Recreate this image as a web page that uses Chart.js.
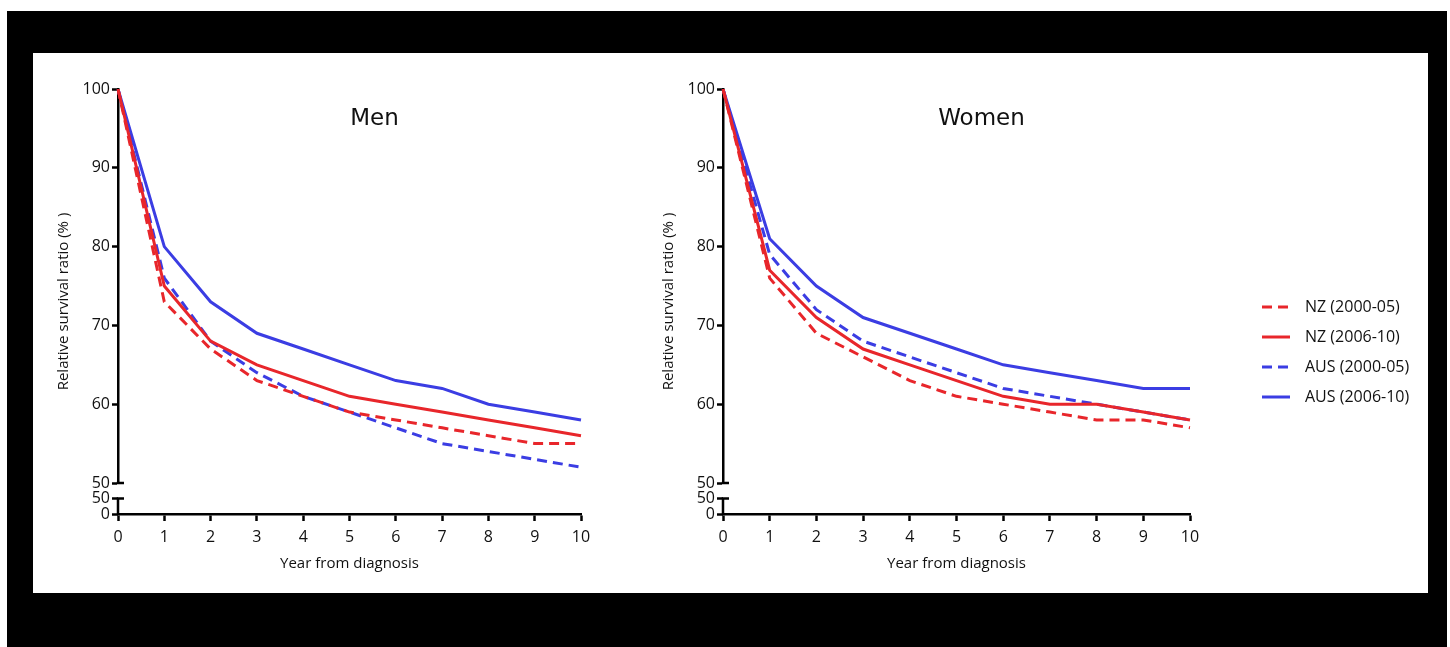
<!DOCTYPE html>
<html>
<head>
<meta charset="utf-8">
<script src="https://cdn.jsdelivr.net/npm/chart.js@4/dist/chart.umd.min.js"></script>
<style>
  html, body { margin: 0; padding: 0; background: #fff; }
  body { width: 1450px; height: 647px; position: relative; overflow: hidden; }
  #frame { position: absolute; left: 7px; top: 11px; width: 1440px; height: 636px; background: #000; }
  #panel { position: absolute; left: 33px; top: 53px; width: 1395px; height: 540px; background: #fff; }
  #men { position: absolute; left: 33px; top: 53px; }
  #women { position: absolute; left: 638px; top: 53px; }
</style>
</head>
<body>
<div id="frame"></div>
<div id="panel"></div>
<canvas id="men" width="605" height="540"></canvas>
<canvas id="women" width="790" height="540"></canvas>
<script>
// years since diagnosis
const years = [0, 1, 2, 3, 4, 5, 6, 7, 8, 9, 10];

const seriesLabels = ['NZ (2000-05)', 'NZ (2006-10)', 'AUS (2000-05)', 'AUS (2006-10)'];

// relative survival ratio (%), men
const menNZ0005  = [100, 73, 67, 63, 61, 59, 58, 57, 56, 55, 55];
const menNZ0610  = [100, 75, 68, 65, 63, 61, 60, 59, 58, 57, 56];
const menAUS0005 = [100, 76, 68, 64, 61, 59, 57, 55, 54, 53, 52];
const menAUS0610 = [100, 80, 73, 69, 67, 65, 63, 62, 60, 59, 58];

// relative survival ratio (%), women
const womenNZ0005  = [100, 76, 69, 66, 63, 61, 60, 59, 58, 58, 57];
const womenNZ0610  = [100, 77, 71, 67, 65, 63, 61, 60, 60, 59, 58];
const womenAUS0005 = [100, 79, 72, 68, 66, 64, 62, 61, 60, 59, 58];
const womenAUS0610 = [100, 81, 75, 71, 69, 67, 65, 64, 63, 62, 62];

const RED = '#e8262b';
const BLUE = '#3b3de3';
const seriesColors = [RED, RED, BLUE, BLUE];
const seriesDash = [[10, 6], [], [10, 6], []];

Chart.defaults.font.family = "'Open Sans', sans-serif";
Chart.defaults.color = '#111';

// draws the lower piece of the broken y axis, the y title, the panel title and the legend
const brokenAxis = {
  id: 'brokenAxis',
  afterDraw(chart, args, opts) {
    const { ctx, chartArea, scales: { y, yLow } } = chart;
    const ax = y.right;
    ctx.save();
    ctx.strokeStyle = '#000';
    ctx.lineWidth = 2.5;
    ctx.beginPath();
    ctx.moveTo(ax, yLow.getPixelForValue(50));
    ctx.lineTo(ax, yLow.getPixelForValue(0));
    [y.getPixelForValue(50), yLow.getPixelForValue(50)].forEach(py => {
      ctx.moveTo(ax - 1.25, py);
      ctx.lineTo(ax + 6, py);
    });
    ctx.stroke();

    ctx.fillStyle = '#111';
    ctx.textAlign = 'center';
    ctx.textBaseline = 'middle';

    // y title centred over both pieces of the axis
    ctx.save();
    ctx.font = "15px 'Open Sans', sans-serif";
    ctx.translate(y.left + 31, (y.top + yLow.bottom) / 2);
    ctx.rotate(-Math.PI / 2);
    ctx.fillText(opts.yTitle, 0, 0);
    ctx.restore();

    ctx.font = "23px 'DejaVu Sans', sans-serif";
    ctx.fillText(opts.title, (chartArea.left + chartArea.right) / 2 + 25, chartArea.top + 30);

    if (opts.legend) {
      const lx = chartArea.right + 72;
      const ly = chartArea.top + 218;
      ctx.font = "16px 'Open Sans', sans-serif";
      ctx.textAlign = 'left';
      chart.data.datasets.forEach((ds, i) => {
        const py = ly + i * 30;
        ctx.setLineDash(ds.borderDash || []);
        ctx.strokeStyle = ds.borderColor;
        ctx.lineWidth = ds.borderWidth;
        ctx.beginPath();
        ctx.moveTo(lx, py);
        ctx.lineTo(lx + 28, py);
        ctx.stroke();
        ctx.setLineDash([]);
        ctx.fillText(ds.label, lx + 43, py);
      });
    }
    ctx.restore();
  }
};

const tickGrid = { drawOnChartArea: false, tickLength: 6, tickWidth: 2.5, tickColor: '#000' };

function makeChart(id, title, series, withLegend, padRight) {
  return new Chart(document.getElementById(id), {
    type: 'line',
    data: {
      labels: years,
      datasets: series.map((d, i) => ({
        label: seriesLabels[i],
        data: d,
        borderColor: seriesColors[i],
        borderDash: seriesDash[i],
        borderWidth: 3,
        pointRadius: 0,
        tension: 0,
        fill: false,
        yAxisID: 'y'
      }))
    },
    options: {
      responsive: false,
      animation: false,
      layout: { padding: { left: 0, top: 36, right: padRight, bottom: 0 } },
      plugins: {
        legend: { display: false },
        tooltip: { enabled: false },
        brokenAxis: { title: title, yTitle: 'Relative survival ratio (% )', legend: withLegend }
      },
      scales: {
        // lower stub of the broken axis (defined first so it sits below)
        yLow: {
          type: 'linear',
          position: 'left',
          stack: 'v',
          stackWeight: 31,
          weight: 0,
          min: 0,
          max: 100,
          ticks: { stepSize: 50, padding: 2, font: { size: 16 }, autoSkip: false },
          afterBuildTicks: s => { s.ticks = s.ticks.filter(t => t.value <= 50); },
          grid: tickGrid,
          border: { display: false },
          afterFit: s => { s.width = 85; }
        },
        y: {
          type: 'linear',
          position: 'left',
          stack: 'v',
          stackWeight: 394,
          weight: 1,
          min: 50,
          max: 100,
          ticks: { stepSize: 10, padding: 2, font: { size: 16 } },
          grid: tickGrid,
          border: { display: true, width: 2.5, color: '#000' },
          afterFit: s => { s.width = 85; }
        },
        x: {
          type: 'category',
          offset: false,
          grid: { drawOnChartArea: false, tickLength: 7, tickWidth: 2.5, tickColor: '#000' },
          border: { display: true, width: 2.5, color: '#000' },
          ticks: { padding: 7, font: { size: 16 }, maxRotation: 0, autoSkip: false },
          title: { display: true, text: 'Year from diagnosis', font: { size: 15 }, padding: { top: 4, bottom: 20 } },
          afterFit: s => { s.height = 79; }
        }
      }
    },
    plugins: [brokenAxis]
  });
}

makeChart('men', 'Men', [menNZ0005, menNZ0610, menAUS0005, menAUS0610], false, 57);
makeChart('women', 'Women', [womenNZ0005, womenNZ0610, womenAUS0005, womenAUS0610], true, 238);
</script>
</body>
</html>
